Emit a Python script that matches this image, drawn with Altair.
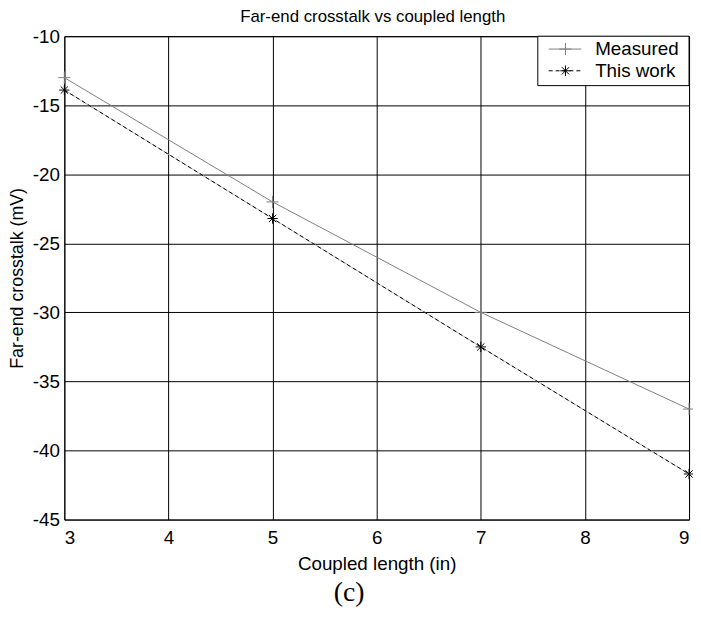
import altair as alt
import pandas as pd

# ---- data ----
lengths = [3, 5, 7, 9]
measured = [-13.0, -22.0, -30.0, -37.0]
this_work = [-13.9, -23.2, -32.5, -41.7]
x_ticks = [3, 4, 5, 6, 7, 8, 9]
y_ticks = [-45, -40, -35, -30, -25, -20, -15, -10]
series_names = ["Measured", "This work"]
chart_title = "Far-end crosstalk vs coupled length"

df = pd.DataFrame({
    "length": lengths * 2,
    "value": measured + this_work,
    "series": [series_names[0]] * len(lengths) + [series_names[1]] * len(lengths),
})

FONT = "Liberation Sans"
W, H = 632, 489
PLUS = "M-1,0L1,0M0,-1L0,1"
STAR = "M-1,0L1,0M0,-1L0,1M-0.7,-0.7L0.7,0.7M-0.7,0.7L0.7,-0.7"
GRAY = "#808080"

x = alt.X("length:Q",
          scale=alt.Scale(domain=[3, 9], nice=False, zero=False),
          axis=alt.Axis(values=x_ticks, title="Coupled length (in)",
                        labelExpr="'' + datum.value",
                        labelPadding=9, titlePadding=8))
y = alt.Y("value:Q",
          scale=alt.Scale(domain=[-45, -10], nice=False, zero=False),
          axis=alt.Axis(values=y_ticks, title="Far-end crosstalk (mV)",
                        labelExpr="'' + datum.value",
                        labelPadding=5, titleX=-47, titleBaseline="middle",
                        titleFontSize=18))

base = alt.Chart(df).encode(x=x, y=y)
meas = base.transform_filter(alt.datum.series == series_names[0])
work = base.transform_filter(alt.datum.series == series_names[1])

meas_line = meas.mark_line(color=GRAY, strokeWidth=1)
meas_pts = meas.mark_point(shape=PLUS, size=150, filled=False, color=GRAY, strokeWidth=1, opacity=1)
work_under = work.mark_line(color="#b8b8b8", strokeWidth=1)
work_line = work.mark_line(color="black", strokeWidth=1, strokeDash=[4, 3])
work_pts = work.mark_point(shape=STAR, size=110, filled=False, color="black", strokeWidth=1, opacity=1)

# ---- legend drawn inside the plot (top-right) ----
one = pd.DataFrame({"k": [0]})
leg_box = alt.Chart(one).mark_rect(fill="white", stroke="black", strokeWidth=1).encode(
    x=alt.value(479), x2=alt.value(632), y=alt.value(0), y2=alt.value(50))
leg_l1 = alt.Chart(one).mark_rule(color=GRAY, strokeWidth=1).encode(
    x=alt.value(490), x2=alt.value(523), y=alt.value(13))
leg_p1 = alt.Chart(one).mark_point(shape=PLUS, size=150, filled=False, color=GRAY, strokeWidth=1, opacity=1).encode(
    x=alt.value(507), y=alt.value(13))
leg_t1 = alt.Chart(one).mark_text(text=series_names[0], align="left", baseline="middle",
                                  font=FONT, fontSize=19, color="black").encode(
    x=alt.value(537), y=alt.value(13))
leg_l2 = alt.Chart(one).mark_rule(color="black", strokeWidth=1, strokeDash=[4, 3]).encode(
    x=alt.value(490), x2=alt.value(523), y=alt.value(35))
leg_p2 = alt.Chart(one).mark_point(shape=STAR, size=110, filled=False, color="black", strokeWidth=1, opacity=1).encode(
    x=alt.value(507), y=alt.value(35))
leg_t2 = alt.Chart(one).mark_text(text=series_names[1], align="left", baseline="middle",
                                  font=FONT, fontSize=19, color="black").encode(
    x=alt.value(537), y=alt.value(35))

title_mark = alt.Chart(one).mark_text(text=chart_title, align="center", baseline="middle",
                                      font=FONT, fontSize=17, color="black").encode(
    x=alt.value(312), y=alt.value(-19))

caption = alt.Chart(one).mark_text(text="(c)", align="center", baseline="middle",
                                   font="Liberation Serif", fontSize=28, color="black").encode(
    x=alt.value(288), y=alt.value(563))

chart = alt.layer(
    meas_line, work_under, work_line, meas_pts, work_pts,
    leg_box, leg_l1, leg_p1, leg_t1, leg_l2, leg_p2, leg_t2, title_mark, caption,
).properties(
    width=W, height=H,
    background="white",
    autosize=alt.AutoSizeParams(type="none"),
    padding={"left": 57, "top": 25, "right": 4, "bottom": 90},
).configure_view(
    stroke="black", strokeWidth=1, fill="white"
).configure_axis(
    grid=True, gridColor="black", gridWidth=1, gridOpacity=1,
    domain=False, ticks=False,
    labelFont=FONT, labelFontSize=19, labelColor="black",
    titleFont=FONT, titleFontSize=19, titleFontWeight="normal", titleColor="black",
)

chart.save("out.html", embed_options={"renderer": "svg", "actions": False})
